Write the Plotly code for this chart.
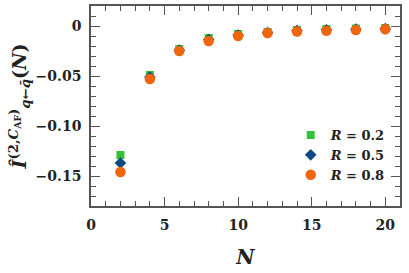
import plotly.graph_objects as go

N = [2, 4, 6, 8, 10, 12, 14, 16, 18, 20]
R02 = [-0.129, -0.049, -0.023, -0.012, -0.008, -0.006, -0.004, -0.003, -0.0025, -0.002]
R05 = [-0.137, -0.051, -0.024, -0.0135, -0.009, -0.0065, -0.0045, -0.0038, -0.0032, -0.0027]
R08 = [-0.146, -0.053, -0.025, -0.015, -0.010, -0.007, -0.0055, -0.0047, -0.004, -0.0033]
labels = ["<i>R</i> = 0.2", "<i>R</i> = 0.5", "<i>R</i> = 0.8"]
ytickvals = [0, -0.05, -0.10, -0.15]
yticktext = ["0", "\u22120.05", "\u22120.10", "\u22120.15"]
xtickvals = [0, 5, 10, 15, 20]

FONT = "DejaVu Serif"
fig = go.Figure()
fig.add_trace(go.Scatter(x=N, y=R02, mode="markers", name=labels[0],
                         marker=dict(symbol="square", size=8, color="#33c23a")))
fig.add_trace(go.Scatter(x=N, y=R05, mode="markers", name=labels[1],
                         marker=dict(symbol="diamond", size=9, color="#0d4a82")))
fig.add_trace(go.Scatter(x=N, y=R08, mode="markers", name=labels[2],
                         marker=dict(symbol="circle", size=10.5, color="#f0650e")))

axis_common = dict(showline=True, linecolor="#555555", linewidth=1.5, mirror="ticks",
                   ticks="inside", ticklen=9, tickwidth=1.2, tickcolor="#555555",
                   showgrid=False, zeroline=False, ticklabelstandoff=5, automargin=False,
                   tickfont=dict(family=FONT, size=14, color="#222222", weight="bold"))

fig.update_layout(
    width=409, height=273,
    margin=dict(l=91, r=9, t=6, b=67),
    plot_bgcolor="white", paper_bgcolor="white",
    font=dict(family=FONT, weight="bold", color="#222222"),
    xaxis=dict(range=[0, 21], tickvals=xtickvals,
               minor=dict(dtick=1, ticks="inside", ticklen=5, tickcolor="#555555", tickwidth=1),
               title=dict(text="<i>N</i>", font=dict(family=FONT, size=20, weight="bold"), standoff=18),
               **axis_common),
    yaxis=dict(range=[-0.18, 0.02], tickvals=ytickvals, ticktext=yticktext,
               minor=dict(dtick=0.01, tick0=0, ticks="inside", ticklen=5, tickcolor="#555555", tickwidth=1),
               title=dict(text="<i>Î</i><sup>(2,<i>C</i><sub>AF</sub>)</sup><sub><i>q</i>←<i>q̄</i></sub>(<i>N</i>)",
                          font=dict(family=FONT, size=19, weight="bold"), standoff=4),
               **axis_common),
    legend=dict(x=0.97, xanchor="right", y=0.43, yanchor="top",
                bgcolor="rgba(0,0,0,0)", tracegroupgap=0, itemwidth=30,
                font=dict(family=FONT, size=13, weight="bold")),
)
fig.write_html("out.html", config={"displayModeBar": False},
               post_script="document.body.style.margin='0';document.body.style.overflow='hidden';")
